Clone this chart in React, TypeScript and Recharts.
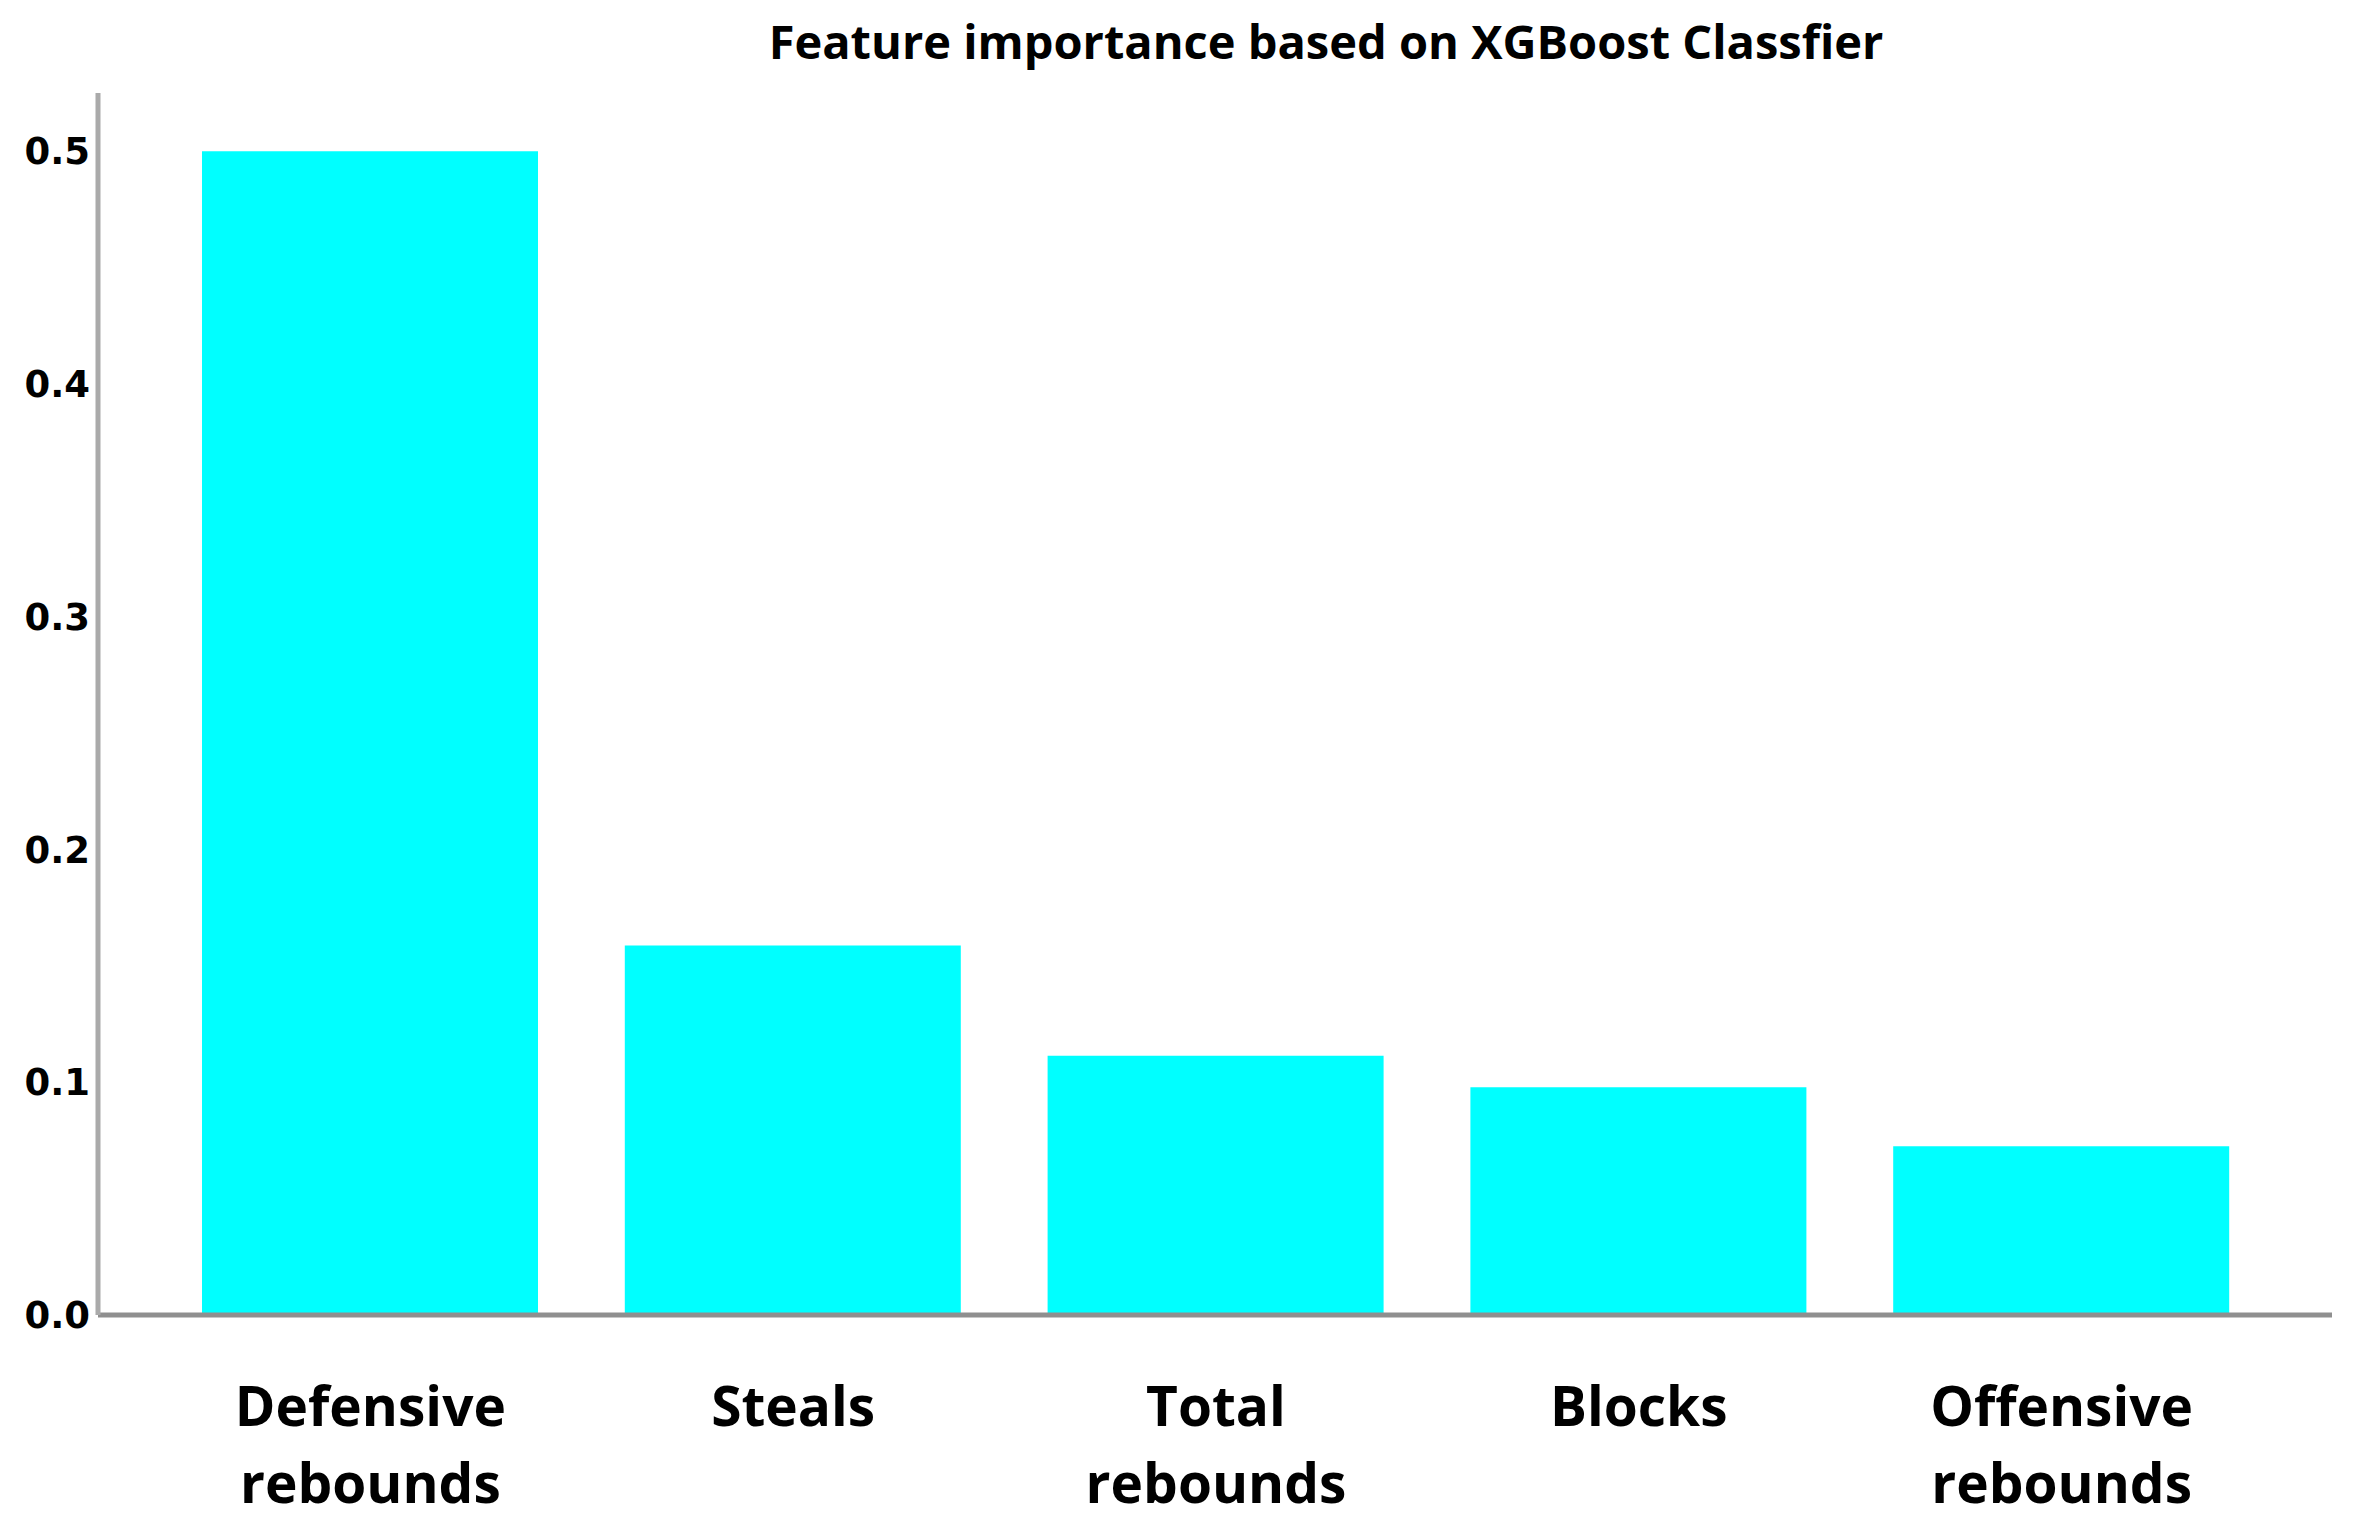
import React from "react";
import { BarChart, Bar, XAxis, YAxis } from "recharts";

const categories = ["Defensive rebounds", "Steals", "Total rebounds", "Blocks", "Offensive rebounds"];
const importance = [0.5, 0.1587, 0.1114, 0.0978, 0.0725];
const yTicks = [0, 0.1, 0.2, 0.3, 0.4, 0.5];
const title = "Feature importance based on XGBoost Classfier";

const data = categories.map((c, i) => ({ name: c, value: importance[i] }));

const W = 2346;
const H = 1521;

const XTick = (props: any) => {
  const { x, y, payload } = props;
  const words = String(payload.value).split(" ");
  return (
    <g>
      <text
        x={x}
        y={y + 103}
        textAnchor="middle"
        fontFamily="'Open Sans', sans-serif"
        fontWeight={700}
        fontSize={55}
        fill="#000"
      >
        {words.map((w, i) => (
          <tspan key={i} x={x} dy={i === 0 ? 0 : 77}>
            {w}
          </tspan>
        ))}
      </text>
    </g>
  );
};

export default function App() {
  return (
    <div style={{ position: "relative", width: W, height: H, background: "#fff" }}>
      <div
        style={{
          position: "absolute",
          left: 0,
          top: 9,
          width: 2636,
          textAlign: "center",
          fontFamily: "'Open Sans', sans-serif",
          fontWeight: 700,
          fontSize: 47,
          lineHeight: "48px",
          color: "#000",
        }}
      >
        {title}
      </div>
      <BarChart width={W} height={H} data={data} margin={{ top: 85, right: 22, left: 0, bottom: 14 }}>
        <XAxis
          dataKey="name"
          height={200}
          interval={0}
          padding={{ left: 61, right: 59 }}
          tickLine={false}
          axisLine={{ stroke: "#8f8f8f", strokeWidth: 5 }}
          tick={<XTick />}
        />
        <YAxis
          width={90}
          domain={[0, 0.525]}
          ticks={yTicks}
          interval={0}
          tickLine={false}
          axisLine={{ stroke: "#aaaaaa", strokeWidth: 5 }}
          tickFormatter={(v: number) => v.toFixed(1)}
          tick={{ fontFamily: "'DejaVu Sans', sans-serif", fontWeight: 700, fontSize: 37, fill: "#000" }}
        />
        <Bar dataKey="value" fill="#00ffff" barSize={336} isAnimationActive={false} />
      </BarChart>
    </div>
  );
}
